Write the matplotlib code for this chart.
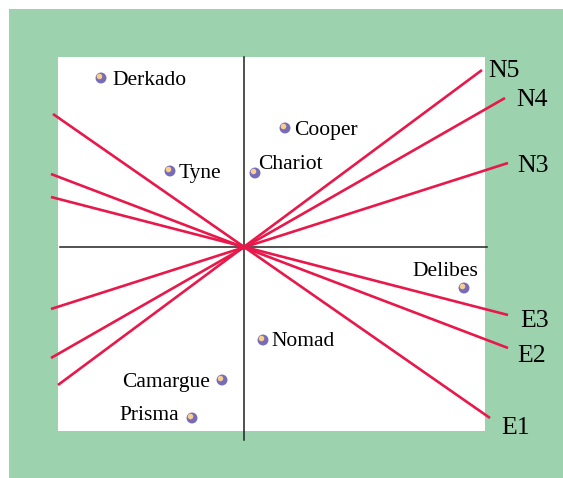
import matplotlib
matplotlib.use("Agg")
import matplotlib.pyplot as plt
from matplotlib.patches import Rectangle
from matplotlib.transforms import offset_copy

# Sample (product) scores
samples = ["Derkado", "Cooper", "Chariot", "Tyne", "Delibes", "Nomad", "Camargue", "Prisma"]
sample_x = [-1.43, 0.41, 0.11, -0.74, 2.20, 0.19, -0.22, -0.52]
sample_y = [1.69, 1.19, 0.74, 0.76, -0.41, -0.93, -1.33, -1.71]

# Variable (loading) lines: positive end and negative end
variables = ["N5", "N4", "N3", "E3", "E2", "E1"]
var_x_pos = [2.38, 2.61, 2.64, 2.64, 2.64, 2.46]
var_y_pos = [1.77, 1.49, 0.84, -0.68, -1.01, -1.71]
var_x_neg = [-1.86, -1.93, -1.93, -1.93, -1.93, -1.91]
var_y_neg = [-1.38, -1.11, -0.62, 0.50, 0.73, 1.33]

W, H = 563, 478
fig = plt.figure(figsize=(W / 100, H / 100), dpi=100)
fig.patch.set_facecolor("white")
fig.add_artist(Rectangle((9 / W, 0), 1, (H - 9) / H, transform=fig.transFigure,
                         facecolor="#9cd3ae", edgecolor="none", zorder=-10))

ax = fig.add_axes([58 / W, (H - 431) / H, (485 - 58) / W, (431 - 57) / H])
ax.set_zorder(1)
ax.set_facecolor("white")
ax.set_xlim(-1.86, 2.41)
ax.set_ylim(-1.84, 1.90)
ax.set_xticks([])
ax.set_yticks([])
for s in ax.spines.values():
    s.set_visible(False)

font = "Liberation Serif"

# axes cross
ax.plot([-1.84, 2.43], [0, 0], color="#222222", lw=1.1, clip_on=False, zorder=2)
ax.plot([0, 0], [-1.93, 1.90], color="#222222", lw=1.1, clip_on=False, zorder=2)

# variable lines
label_off = {"N5": (22, -1), "N4": (27, -2), "N3": (25, -3), "E3": (27, -6), "E2": (24, -8), "E1": (26, -10)}
for name, xp, yp, xn, yn in zip(variables, var_x_pos, var_y_pos, var_x_neg, var_y_neg):
    ax.plot([xn, xp], [yn, yp], color="#e8194a", lw=1.9, clip_on=False, zorder=3,
            solid_capstyle="butt")
    dx, dy = label_off[name]
    ax.annotate(name, (xp, yp), xytext=(dx * 0.72, dy * 0.72), textcoords="offset points",
                ha="center", va="center", fontsize=18.5, family=font, color="black",
                annotation_clip=False)

# sample points (shaded spheres)
ax.scatter(sample_x, sample_y, s=62, color="#786cb8", edgecolor="none", zorder=5, clip_on=False)
hl = offset_copy(ax.transData, fig=fig, x=-1.5, y=1.5, units="dots")
ax.scatter(sample_x, sample_y, s=16, color="#f6d08c", edgecolor="none", zorder=6,
           transform=hl, clip_on=False)

lab = {
    "Derkado": ((11, -2), "left"),
    "Cooper": ((9, -2), "left"),
    "Chariot": ((3, 9), "left"),
    "Tyne": ((9, -2), "left"),
    "Delibes": ((-19, 16), "center"),
    "Nomad": ((8, -2), "left"),
    "Camargue": ((-12, -3), "right"),
    "Prisma": ((-13, 2), "right"),
}
for name, x, y in zip(samples, sample_x, sample_y):
    (dx, dy), ha = lab[name]
    ax.annotate(name, (x, y), xytext=(dx * 0.72, dy * 0.72), textcoords="offset points",
                ha=ha, va="center", fontsize=15.5, family=font, color="black",
                annotation_clip=False, zorder=7)

fig.savefig("out.png", dpi=100)
